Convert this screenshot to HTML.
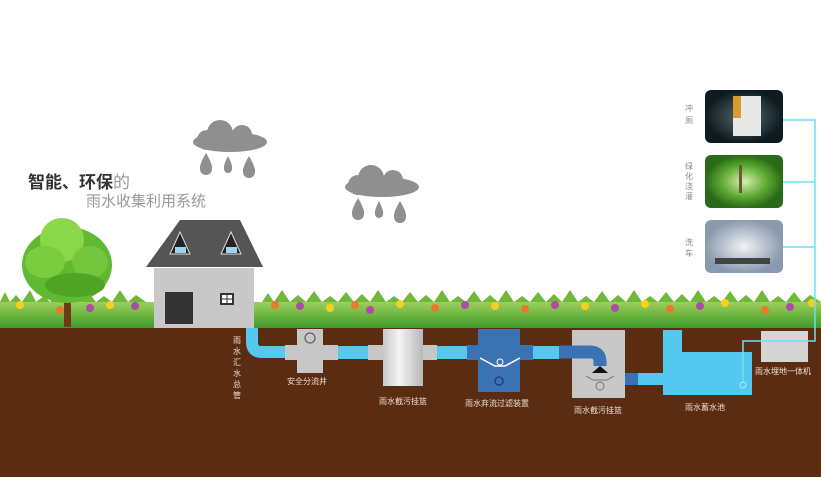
<!DOCTYPE html>
<html><head><meta charset="utf-8"><style>
body{margin:0;width:821px;height:477px;overflow:hidden;background:#fff;font-family:"Liberation Sans","Noto Sans CJK SC",sans-serif}
</style></head><body>
<svg width="821" height="477" viewBox="0 0 821 477" xmlns="http://www.w3.org/2000/svg" font-family="Liberation Sans, Noto Sans CJK SC, sans-serif">
<defs>
<linearGradient id="cyl" x1="0" x2="1"><stop offset="0" stop-color="#c8c8c8"/><stop offset=".4" stop-color="#f4f4f4"/><stop offset="1" stop-color="#b8b8b8"/></linearGradient>
<linearGradient id="gr" x1="0" y1="0" x2="0" y2="1"><stop offset="0" stop-color="#9ccf5a"/><stop offset="1" stop-color="#3f9a2a"/></linearGradient>
<radialGradient id="img1"><stop offset="0" stop-color="#5a6b72"/><stop offset="1" stop-color="#0d1a20"/></radialGradient>
<radialGradient id="img2"><stop offset="0" stop-color="#d8f0b0"/><stop offset=".6" stop-color="#5aa830"/><stop offset="1" stop-color="#2a6a18"/></radialGradient>
<radialGradient id="img3"><stop offset="0" stop-color="#f2f2f4"/><stop offset="1" stop-color="#8a9aae"/></radialGradient>
<path id="drop" d="M0 -10 Q-7 2 -6 6 A6 6 0 0 0 6 6 Q7 2 0 -10z"/>
<path id="sdrop" d="M0 -8 Q-5 2 -4 5 A4 4 0 0 0 4 5 Q5 2 0 -8z"/>
</defs>
<rect x="0" y="327" width="821" height="150" fill="#5a2d12"/>
<rect x="0" y="302" width="821" height="26" fill="url(#gr)"/>
<path d="M0 302 L5 292 L10 302 L16 295 L22 302 L30 290 L36 302 L44 296 L50 302 L58 291 L64 302 L72 294 L80 302 L88 292 L96 302 L104 296 L112 302 L120 290 L128 302 L136 295 L146 302 Z" fill="#6fb83a"/>
<path d="M262 302 L268 293 L274 302 L282 290 L290 302 L298 295 L306 302 L314 291 L322 302 L330 296 L338 302 L346 292 L354 302 L362 294 L370 302 L378 290 L386 302 L394 296 L402 302 L410 292 L418 302 L426 295 L434 302 L442 290 L450 302 L458 296 L466 302 L474 291 L482 302 L490 295 L498 302 L506 290 L514 302 L522 296 L530 302 L538 292 L546 302 L554 294 L562 302 L570 290 L578 302 L586 296 L594 302 L602 291 L610 302 L618 295 L626 302 L634 290 L642 302 L650 296 L658 302 L666 292 L674 302 L682 294 L690 302 L698 290 L706 302 L714 296 L722 302 L730 291 L738 302 L746 295 L754 302 L762 290 L770 302 L778 296 L786 302 L794 292 L802 302 L810 295 L821 302 Z" fill="#6fb83a"/>
<g>
<circle cx="20" cy="305" r="4" fill="#f5d020"/><circle cx="60" cy="310" r="4" fill="#e87a2a"/><circle cx="90" cy="308" r="4" fill="#b04aa8"/><circle cx="110" cy="305" r="4" fill="#f5d020"/><circle cx="135" cy="306" r="4" fill="#b04aa8"/>
<circle cx="275" cy="305" r="4" fill="#e87a2a"/><circle cx="300" cy="306" r="4" fill="#b04aa8"/><circle cx="330" cy="308" r="4" fill="#f5d020"/><circle cx="355" cy="305" r="4" fill="#e87a2a"/><circle cx="370" cy="310" r="4" fill="#b04aa8"/><circle cx="400" cy="304" r="4" fill="#f5d020"/><circle cx="435" cy="308" r="4" fill="#e87a2a"/><circle cx="465" cy="305" r="4" fill="#b04aa8"/><circle cx="495" cy="306" r="4" fill="#f5d020"/><circle cx="525" cy="309" r="4" fill="#e87a2a"/><circle cx="555" cy="305" r="4" fill="#b04aa8"/><circle cx="585" cy="306" r="4" fill="#f5d020"/><circle cx="615" cy="308" r="4" fill="#b04aa8"/><circle cx="645" cy="304" r="4" fill="#f5d020"/><circle cx="670" cy="309" r="4" fill="#e87a2a"/><circle cx="700" cy="306" r="4" fill="#b04aa8"/><circle cx="725" cy="303" r="4" fill="#f5d020"/><circle cx="765" cy="310" r="4" fill="#e87a2a"/><circle cx="790" cy="307" r="4" fill="#b04aa8"/><circle cx="812" cy="303" r="4" fill="#f5d020"/>
</g>
<rect x="64" y="285" width="7" height="42" fill="#6b3a1a"/>
<ellipse cx="67" cy="265" rx="45" ry="38" fill="#5fba32"/>
<ellipse cx="62" cy="240" rx="22" ry="22" fill="#8ad84a"/>
<ellipse cx="45" cy="262" rx="20" ry="16" fill="#7ccc40"/>
<ellipse cx="90" cy="262" rx="18" ry="16" fill="#74c63c"/>
<ellipse cx="75" cy="285" rx="30" ry="12" fill="#4fa426"/>
<g fill="#8f8f8f">
<ellipse cx="230" cy="142" rx="37" ry="10"/><circle cx="220" cy="133" r="13"/><circle cx="242" cy="135" r="10"/><circle cx="207" cy="140" r="10"/>
<use href="#drop" x="206" y="163"/><use href="#sdrop" x="228" y="164"/><use href="#drop" x="249" y="166"/>
<ellipse cx="382" cy="187" rx="37" ry="10"/><circle cx="371" cy="178" r="13"/><circle cx="393" cy="180" r="10"/><circle cx="358" cy="185" r="10"/>
<use href="#drop" x="358" y="208"/><use href="#sdrop" x="379" y="209"/><use href="#drop" x="400" y="211"/>
</g>
<text x="28" y="188" font-size="17" font-weight="bold" fill="#333">智能、环保<tspan fill="#999" font-weight="normal">的</tspan></text>
<text x="86" y="206" font-size="15" fill="#999">雨水收集利用系统</text>
<rect x="154" y="268" width="100" height="60" fill="#c8c8c8"/>
<polygon points="180,220 240,220 263,267 146,267" fill="#555"/>
<polygon points="180,232 170,254 190,254" fill="#222" stroke="#ddd"/>
<rect x="175" y="247" width="11" height="6" fill="#9fd4f0"/>
<polygon points="231,232 221,254 241,254" fill="#222" stroke="#ddd"/>
<rect x="226" y="247" width="11" height="6" fill="#9fd4f0"/>
<rect x="165" y="292" width="28" height="32" fill="#333"/>
<rect x="221" y="294" width="12" height="10" fill="#fff" stroke="#333" stroke-width="2"/>
<line x1="227" y1="294" x2="227" y2="304" stroke="#333"/><line x1="221" y1="299" x2="233" y2="299" stroke="#333"/>
<path d="M252 328 V342 Q252 352 262 352 H290" stroke="#55c8ef" stroke-width="12" fill="none"/>
<rect x="285" y="345" width="53" height="15" fill="#c7c7c7"/>
<rect x="297" y="329" width="26" height="44" fill="#c7c7c7"/>
<circle cx="310" cy="338" r="5" fill="none" stroke="#666" stroke-width="1.3"/>
<rect x="338" y="346" width="30" height="13" fill="#55c8ef"/>
<rect x="368" y="345" width="15" height="15" fill="#c7c7c7"/>
<rect x="383" y="329" width="40" height="57" fill="url(#cyl)"/>
<rect x="423" y="345" width="14" height="15" fill="#c7c7c7"/>
<rect x="437" y="346" width="30" height="13" fill="#55c8ef"/>
<rect x="467" y="345" width="11" height="15" fill="#3b72b4"/>
<rect x="478" y="329" width="42" height="63" fill="#3b72b4"/>
<path d="M480 358 L495 366 L505 366 L520 358" stroke="#fff" stroke-width="1.5" fill="none"/>
<circle cx="500" cy="362" r="3" fill="none" stroke="#fff"/>
<circle cx="499" cy="381" r="4" fill="none" stroke="#1e3d6a" stroke-width="1.3"/>
<rect x="520" y="345" width="13" height="15" fill="#3b72b4"/>
<rect x="533" y="346" width="26" height="13" fill="#55c8ef"/>
<rect x="572" y="330" width="53" height="68" fill="#c7c7c7"/>
<path d="M559 352 H590 Q600 352 600 362 V366" stroke="#3b72b4" stroke-width="13" fill="none"/>
<polygon points="592,373 600,366 608,373" fill="#111"/>
<path d="M586 376 L593 380 L607 380 L614 376" stroke="#777" fill="none"/>
<circle cx="600" cy="386" r="4" fill="none" stroke="#777"/>
<rect x="625" y="373" width="13" height="12" fill="#3b72b4"/>
<path d="M638 373 H663 V330 H682 V352 H752 V395 H663 V385 H638z" fill="#55c8ef"/>
<rect x="761" y="331" width="47" height="31" fill="#d5d5d5"/>
<path d="M743 383 V341 H815 V120 H783 M815 182 H783 M815 247 H783" stroke="#6ee0f0" stroke-width="1.5" fill="none"/>
<circle cx="743" cy="385" r="3" fill="none" stroke="#aef" />
<rect x="705" y="90" width="78" height="53" rx="6" fill="url(#img1)"/>
<rect x="733" y="96" width="28" height="40" fill="#e8e8e8"/><rect x="733" y="96" width="8" height="22" fill="#d99a30"/>
<rect x="705" y="155" width="78" height="53" rx="6" fill="url(#img2)"/>
<rect x="739" y="165" width="3" height="28" fill="#6a5a3a"/>
<rect x="705" y="220" width="78" height="53" rx="6" fill="url(#img3)"/>
<rect x="715" y="258" width="55" height="6" fill="#444"/>
<g font-size="8" fill="#888">
<text x="685" y="111">冲</text><text x="685" y="123">厕</text>
<text x="685" y="169">绿</text><text x="685" y="179">化</text><text x="685" y="189">浇</text><text x="685" y="199">灌</text>
<text x="685" y="245">洗</text><text x="685" y="256">车</text>
</g>
<g font-size="8" fill="#f0e0d0">
<text x="233" y="343">雨</text><text x="233" y="354">水</text><text x="233" y="365">汇</text><text x="233" y="376">水</text><text x="233" y="387">总</text><text x="233" y="398">管</text>
<text x="287" y="384">安全分流井</text>
<text x="379" y="404">雨水截污挂篮</text>
<text x="465" y="406">雨水弃流过滤装置</text>
<text x="574" y="413">雨水截污挂篮</text>
<text x="685" y="410">雨水蓄水池</text>
<text x="755" y="374">雨水埋地一体机</text>
</g>
</svg>
</body></html>
